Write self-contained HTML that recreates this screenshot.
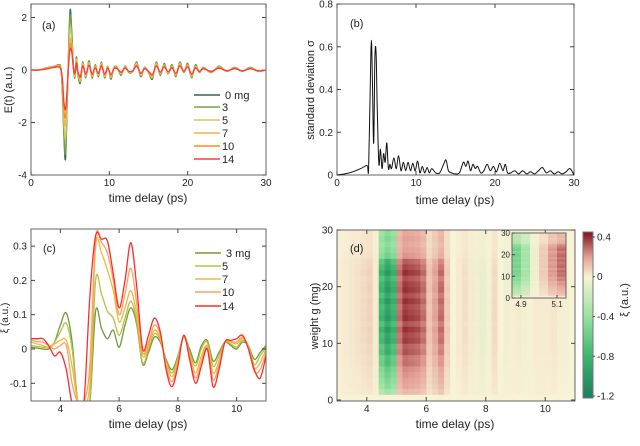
<!DOCTYPE html>
<html><head><meta charset="utf-8"><style>
html,body{margin:0;padding:0;background:#fff;overflow:hidden;width:640px;height:446px;}
svg{display:block;font-family:"Liberation Sans",sans-serif;}
text{fill:#222;}
</style></head><body>
<svg id="fig" width="640" height="446" viewBox="0 0 640 446" xmlns="http://www.w3.org/2000/svg"></svg>
<script>
// ---------- Panel (a) data ----------
const tA=[0,1,2,3,3.5,3.8,4.0,4.2,4.4,4.6,4.8,5.0,5.2,5.4,5.6,5.8,6.0,6.3,6.6,7,7.4,7.8,8.2,8.6,9,9.4,9.8,10.2,10.6,11,11.5,12,12.5,13,13.5,14,14.5,15,15.5,16,16.5,17,17.5,18,18.5,19,19.5,20,20.5,21,21.5,22,23,24,25,26,27,28,29,30];
const a0=[0,0,0.08,0.15,0.2,0.1,-0.8,-2.5,-3.4,-1.5,0.8,2.3,1.5,0.2,-0.3,0.5,-0.2,-0.5,0.3,-0.3,0.35,-0.3,0.2,-0.25,0.3,-0.3,0.15,-0.35,0.1,0.1,-0.2,0.15,-0.1,-0.05,0.3,-0.25,0.1,-0.1,-0.35,0.3,-0.2,0.25,-0.15,0.2,-0.25,0.3,-0.1,0.25,-0.3,0.2,-0.1,0.1,-0.1,0.15,-0.05,0.1,-0.05,0.1,-0.05,0];
const a3=[0,0,0.08,0.15,0.19,0.1,-0.7,-2.3,-3.2,-1.4,0.7,2.1,1.4,0.2,-0.28,0.46,-0.18,-0.46,0.28,-0.28,0.32,-0.28,0.18,-0.23,0.28,-0.28,0.14,-0.32,0.1,0.1,-0.18,0.14,-0.1,-0.05,0.28,-0.23,0.1,-0.1,-0.32,0.28,-0.18,0.23,-0.14,0.18,-0.23,0.28,-0.1,0.23,-0.28,0.18,-0.1,0.1,-0.1,0.14,-0.05,0.1,-0.05,0.1,-0.05,0];
const a5=[0,0,0.07,0.14,0.18,0.08,-0.6,-2.0,-2.6,-1.2,0.5,1.6,1.1,0.15,-0.25,0.4,-0.15,-0.4,0.25,-0.25,0.28,-0.25,0.15,-0.2,0.25,-0.25,0.12,-0.28,0.08,0.08,-0.15,0.12,-0.08,-0.05,0.25,-0.2,0.08,-0.08,-0.28,0.25,-0.15,0.2,-0.12,0.15,-0.2,0.25,-0.08,0.2,-0.25,0.15,-0.08,0.08,-0.08,0.12,-0.05,0.08,-0.05,0.08,-0.05,0];
const a7=[0,0,0.06,0.13,0.17,0.07,-0.5,-1.7,-2.1,-1.0,0.4,1.2,0.9,0.12,-0.2,0.35,-0.12,-0.35,0.2,-0.2,0.24,-0.2,0.12,-0.17,0.2,-0.2,0.1,-0.24,0.07,0.07,-0.12,0.1,-0.07,-0.04,0.2,-0.17,0.07,-0.07,-0.24,0.2,-0.12,0.17,-0.1,0.12,-0.17,0.2,-0.07,0.17,-0.2,0.12,-0.07,0.07,-0.07,0.1,-0.04,0.07,-0.04,0.07,-0.04,0];
const a10=[0,0,0.05,0.12,0.15,0.05,-0.4,-1.5,-1.8,-0.9,0.3,1.0,0.8,0.1,-0.18,0.3,-0.1,-0.3,0.18,-0.18,0.2,-0.18,0.1,-0.15,0.18,-0.18,0.08,-0.2,0.06,0.06,-0.1,0.08,-0.06,-0.04,0.18,-0.15,0.06,-0.06,-0.2,0.18,-0.1,0.15,-0.08,0.1,-0.15,0.18,-0.06,0.15,-0.18,0.1,-0.06,0.06,-0.06,0.08,-0.04,0.06,-0.04,0.06,-0.04,0];
const a14=[0,0,0.04,0.1,0.12,0.04,-0.3,-1.2,-1.5,-0.8,0.2,0.8,0.7,0.1,-0.12,0.25,-0.08,-0.25,0.15,-0.15,0.17,-0.15,0.08,-0.12,0.15,-0.15,0.07,-0.17,0.05,0.05,-0.08,0.07,-0.05,-0.03,0.15,-0.12,0.05,-0.05,-0.17,0.15,-0.08,0.12,-0.07,0.08,-0.12,0.15,-0.05,0.12,-0.15,0.08,-0.05,0.05,-0.05,0.07,-0.03,0.05,-0.03,0.05,-0.03,0];
const seriesA=[a0,a3,a5,a7,a10,a14];
const labelsA=["0 mg","3","5","7","10","14"];
const colorsA=["#2d6b4f","#7f9e45","#cdcc60","#f2b44a","#ff8a1e","#ff3a3a"];
const xTicksA=[0,10,20,30], yTicksA=[2,0,-2,-4];
// ---------- Panel (b) data ----------
const tB=[0,1,2,3,3.8,4.0,4.2,4.35,4.5,4.65,4.8,4.95,5.1,5.3,5.5,5.7,5.9,6.1,6.3,6.5,6.7,6.9,7.2,7.5,7.8,8.1,8.4,8.7,9,9.3,9.6,9.9,10.2,10.5,10.8,11.1,11.4,11.7,12,12.5,13,13.5,13.8,14.1,14.5,15,15.5,16,16.3,16.6,16.9,17.2,17.5,17.8,18.2,18.6,19,19.4,19.8,20.2,20.6,21,21.3,21.6,22,22.5,23,23.5,24,24.5,25,25.5,26,26.5,27,27.5,28,28.5,29,29.5,30];
const sB=[0,0.005,0.015,0.03,0.045,0.03,0.4,0.63,0.4,0.15,0.55,0.57,0.3,0.05,0.12,0.03,0.1,0.06,0.15,0.03,0.05,0.03,0.08,0.03,0.09,0.02,0.06,0.02,0.06,0.02,0.055,0.02,0.065,0.01,0.04,0.01,0.035,0.01,0.03,0.01,0.01,0.05,0.07,0.02,0.01,0.005,0.01,0.06,0.04,0.065,0.02,0.05,0.03,0.04,0.01,0.02,0.05,0.02,0.04,0.015,0.055,0.02,0.05,0.01,0.01,0.02,0.005,0.02,0.005,0.015,0.005,0.02,0.035,0.01,0.02,0.005,0.015,0.005,0.015,0.03,0];
const xTicksB=[0,10,20,30], yTicksB=[0,0.2,0.4,0.6,0.8];
// ---------- Panel (c) data ----------
const tC=[3,3.2,3.4,3.6,3.8,4.0,4.2,4.4,4.6,4.8,5.0,5.2,5.4,5.6,5.8,6.0,6.2,6.4,6.6,6.8,7.0,7.2,7.4,7.6,7.8,8.0,8.2,8.4,8.6,8.8,9.0,9.2,9.4,9.6,9.8,10.0,10.2,10.4,10.6,10.8,11];
const c3=[0.005,0.003,0,0,0.02,0.07,0.105,0.02,-0.3,-0.6,-0.2,0.11,0.06,0.03,0.055,0.005,0.07,0.12,0.07,-0.045,-0.01,0.035,0.02,-0.03,-0.06,-0.02,0.035,0,-0.04,0.01,0.025,-0.035,-0.01,0.02,0.01,0,0.02,0.01,-0.03,-0.01,0.01];
const c5=[0.01,0.008,0.005,0.005,0.02,0.05,0.075,0,-0.35,-0.6,-0.15,0.2,0.16,0.11,0.09,0.04,0.09,0.14,0.08,-0.04,0,0.045,0.025,-0.035,-0.07,-0.025,0.035,-0.01,-0.05,0,0.02,-0.05,-0.02,0.02,0.015,0.005,0.025,0.01,-0.045,-0.02,0.005];
const c7=[0.02,0.015,0.01,0.005,0.015,0.025,0.025,-0.05,-0.4,-0.6,-0.1,0.3,0.28,0.23,0.17,0.08,0.12,0.17,0.1,-0.02,0.01,0.055,0.03,-0.04,-0.08,-0.035,0.04,-0.015,-0.07,-0.02,0.01,-0.07,-0.035,0.02,0.02,0.015,0.03,0.01,-0.055,-0.04,0];
const c10=[0.025,0.022,0.02,0.01,0,0.01,0.01,-0.1,-0.45,-0.6,-0.05,0.32,0.31,0.28,0.2,0.1,0.16,0.235,0.13,-0.01,0.02,0.07,0.04,-0.05,-0.095,-0.04,0.04,-0.02,-0.085,-0.035,0.005,-0.09,-0.045,0.02,0.022,0.02,0.035,0.005,-0.065,-0.06,-0.01];
const c14=[0.03,0.03,0.03,0.01,-0.02,-0.01,-0.06,-0.3,-0.5,-0.6,0.15,0.33,0.32,0.315,0.22,0.12,0.2,0.31,0.18,0,0.04,0.09,0.05,-0.06,-0.11,-0.05,0.04,-0.03,-0.1,-0.05,0,-0.11,-0.06,0.02,0.025,0.03,0.04,0,-0.06,-0.085,-0.02];
const seriesC=[c3,c5,c7,c10,c14];
const labelsC=["3 mg","5","7","10","14"];
const colorsC=["#6f9a3a","#b8c048","#f0b838","#ffa060","#ff2a2a"];
const xTicksC=[4,6,8,10], yTicksC=[-0.1,0,0.1,0.2,0.3];
// ---------- Panel (d) data ----------
const tD=[3,3.2,3.4,3.6,3.8,4.0,4.2,4.4,4.6,4.8,5.0,5.2,5.4,5.6,5.8,6.0,6.2,6.4,6.6,6.8,7.0,7.2,7.4,7.6,7.8,8.0,8.2,8.4,8.6,8.8,9.0,9.2,9.4,9.6,9.8,10.0,10.2,10.4,10.6,10.8];
const profD=[0.01,0.02,0.03,0.04,0.06,0.08,0.02,-0.8,-1.0,-0.85,0.3,0.4,0.38,0.36,0.3,0.12,0.2,0.3,0.1,0,0.02,0.05,0.02,-0.04,-0.07,-0.02,0.06,0,-0.04,0.01,0.02,-0.03,-0.01,0.02,0.02,0.02,0.03,0.01,-0.02,0];
const wD=[0,0.35,0.45,0.5,0.55,0.6,0.72,0.7,0.85,0.8,0.95,0.9,1,0.85,1,0.95,0.9,1,0.88,1,0.95,0.85,1,0.9,0.8,0.55,0.5,0.45,0.5,0.45];
const cbTicks=[0.4,0,-0.4,-0.8,-1.2];

// ---------- helpers ----------
const svg=document.getElementById('fig');
const NS="http://www.w3.org/2000/svg";
function el(tag,attrs,parent){const e=document.createElementNS(NS,tag);for(const k in attrs)e.setAttribute(k,attrs[k]);(parent||svg).appendChild(e);return e;}
function txt(x,y,s,size,anchor,parent,rot){const e=el('text',{x:x,y:y,'font-size':size,'text-anchor':anchor||'middle'},parent);if(rot)e.setAttribute('transform','rotate(-90 '+x+' '+y+')');e.textContent=s;return e;}
function lin(d0,d1,r0,r1){return v=>r0+(v-d0)*(r1-r0)/(d1-d0);}
function frame(x0,y0,x1,y1,xt,yt,sx,sy,xfmt,yfmt,name){
  const g=el('g',{});
  el('rect',{x:x0,y:y0,width:x1-x0,height:y1-y0,fill:'none',stroke:'#666','stroke-width':1},g);
  xt.forEach(v=>{const x=sx(v);el('line',{x1:x,y1:y1,x2:x,y2:y1-4,stroke:'#444'},g);el('line',{x1:x,y1:y0,x2:x,y2:y0+4,stroke:'#444'},g);
    const t=txt(x,y1+11,xfmt(v),10,'middle',g);});
  yt.forEach(v=>{const y=sy(v);el('line',{x1:x0,y1:y,x2:x0+4,y2:y,stroke:'#444'},g);el('line',{x1:x1,y1:y,x2:x1-4,y2:y,stroke:'#444'},g);
    const t=txt(x0-4,y+3.5,yfmt(v),10,'end',g);});
  return g;
}
function path(xs,ys,sx,sy,color,w,parent,name){
  const P=xs.map((x,i)=>[sx(x),sy(ys[i])]);
  let d='M'+P[0][0].toFixed(1)+','+P[0][1].toFixed(1);
  for(let i=0;i<P.length-1;i++){
    const p0=P[Math.max(0,i-1)],p1=P[i],p2=P[i+1],p3=P[Math.min(P.length-1,i+2)];
    const c1=[p1[0]+(p2[0]-p0[0])/6,p1[1]+(p2[1]-p0[1])/6],c2=[p2[0]-(p3[0]-p1[0])/6,p2[1]-(p3[1]-p1[1])/6];
    d+='C'+c1[0].toFixed(1)+','+c1[1].toFixed(1)+' '+c2[0].toFixed(1)+','+c2[1].toFixed(1)+' '+p2[0].toFixed(1)+','+p2[1].toFixed(1);
  }
  const p=el('path',{d:d,fill:'none',stroke:color,'stroke-width':w,'stroke-linejoin':'round'},parent);
  return p;
}

// ---------- Panel (a) ----------
{const x0=31,x1=266,y0=4,y1=175;const sx=lin(0,30,x0,x1),sy=lin(0,-4,70,175);
 frame(x0,y0,x1,y1,xTicksA,yTicksA,sx,sy,v=>v,v=>v,'panel-a-axes');
 const cp=el('clipPath',{id:'clipA'});el('rect',{x:x0,y:y0,width:x1-x0,height:y1-y0},cp);
 const g=el('g',{'clip-path':'url(#clipA)'});
 seriesA.forEach((s,i)=>path(tA,s,sx,sy,colorsA[i],1.3,g,'series-a-'+labelsA[i].replace(' ','')));
 const ly=[95,107,120,133,146,159];
 labelsA.forEach((l,i)=>{const le=el('line',{x1:194,x2:220,y1:ly[i],y2:ly[i],stroke:colorsA[i],'stroke-width':1.5});
  const t=txt(i==0?225:222,ly[i]+4,l,11,'start');});
 const pl=txt(42,29,'(a)',11,'start');
 const xt=txt(148,202,'time delay (ps)',12);
 const yt=txt(12,90,'E(t)  (a.u.)',11,'middle',null,true);
}
// ---------- Panel (b) ----------
{const x0=337,x1=574,y0=4,y1=175;const sx=lin(0,30,x0,x1),sy=lin(0,0.8,y1,y0);
 frame(x0,y0,x1,y1,xTicksB,yTicksB,sx,sy,v=>v,v=>v==0?'0':v.toFixed(1),'panel-b-axes');
 path(tB,sB,sx,sy,'#111',1,null,'sigma-line');
 const pl=txt(350,27,'(b)',11,'start');
 const xt=txt(455,204,'time delay (ps)',12);
 const yt=txt(314,90,'standard deviation σ',11,'middle',null,true);
}
// ---------- Panel (c) ----------
{const x0=31,x1=266,y0=229,y1=401;const sx=lin(3,11,x0,x1),syRaw=lin(0,0.1,349,314.7);
 const sy=v=>Math.min(y1+2,syRaw(v));
 const cp=el('clipPath',{id:'clipC'});el('rect',{x:x0,y:y0,width:x1-x0,height:y1-y0},cp);
 const g=el('g',{'clip-path':'url(#clipC)'});
 seriesC.forEach((s,i)=>path(tC,s,sx,sy,colorsC[i],1.3,g,'series-c-'+labelsC[i].replace(' ','')));
 frame(x0,y0,x1,y1,xTicksC,yTicksC,sx,syRaw,v=>v,v=>v==0?'0':v.toFixed(1),'panel-c-axes');
 const ly=[253,266,279,292,306];
 labelsC.forEach((l,i)=>{const le=el('line',{x1:195,x2:221,y1:ly[i],y2:ly[i],stroke:colorsC[i],'stroke-width':1.5});
  const t=txt(i==0?226:222,ly[i]+4,l,11,'start');});
 const pl=txt(43,252,'(c)',11,'start');
 const xt=txt(148,428,'time delay (ps)',12);
 const yt=txt(8,318,'ξ (a.u.)',10,'middle',null,true);
}
// ---------- Panel (d) ----------
function cmap(v){
 const stops=[[-1.2,[26,128,96]],[-0.8,[60,180,110]],[-0.4,[150,225,160]],[0,[248,242,214]],[0.2,[228,160,150]],[0.45,[130,20,30]]];
 if(v<=stops[0][0])return 'rgb('+stops[0][1]+')';
 for(let i=1;i<stops.length;i++){if(v<=stops[i][0]){const a=stops[i-1],b=stops[i],f=(v-a[0])/(b[0]-a[0]);
  return 'rgb('+a[1].map((c,k)=>Math.round(c+(b[1][k]-c)*f)).join(',')+')';}}
 return 'rgb('+stops[stops.length-1][1]+')';
}
{const x0=337,x1=575,y0=230,y1=401;const sx=lin(3,11,x0,x1),sy=lin(0,30,400,230);
 el('rect',{x:x0,y:y0,width:x1-x0,height:y1-y0,fill:'rgb(248,242,214)'});
 const g=el('g',{});
 wD.forEach((w,j)=>{tD.forEach((t,i)=>{
   const r=el('rect',{x:sx(t).toFixed(1),y:sy(j+1).toFixed(1),width:(sx(t+0.2)-sx(t)+0.4).toFixed(1),height:(sy(j)-sy(j+1)+0.4).toFixed(1),fill:cmap(profD[i]*w)},g);
   });});
 frame(x0,y0,x1,y1,[4,6,8,10],[0,10,20,30],sx,sy,v=>v,v=>v,'panel-d-axes');
 const pl=txt(350,252,'(d)',11,'start');
 const xt=txt(455,428,'time delay (ps)',12);
 const yt=txt(318,316,'weight g (mg)',11,'middle',null,true);
 // inset
 const ix0=512,ix1=566,iy0=233,iy1=298;const isx=lin(4.85,5.15,ix0,ix1),isy=lin(0,30,iy1,iy0);
 const ig=el('g',{});
 el('rect',{x:ix0,y:iy0,width:ix1-ix0,height:iy1-iy0,fill:'rgb(248,242,214)'},ig);
 const insetT=[4.85,4.9,4.95,5.0,5.05,5.1];const insetP=[-0.55,-0.35,-0.05,0.1,0.22,0.3];
 wD.forEach((w,j)=>{insetT.forEach((t,i)=>{el('rect',{x:isx(t).toFixed(1),y:isy(j+1).toFixed(1),width:(isx(t+0.05)-isx(t)+0.3).toFixed(1),height:(isy(j)-isy(j+1)+0.3).toFixed(1),fill:cmap(insetP[i]*w)},ig);});});
 el('rect',{x:ix0,y:iy0,width:ix1-ix0,height:iy1-iy0,fill:'none',stroke:'#666'},ig);
 [0,10,20,30].forEach(v=>{txt(ix0-2,isy(v)+3,v,8,'end',ig);el('line',{x1:ix0,x2:ix0+3,y1:isy(v),y2:isy(v),stroke:'#444'},ig);});
 [4.9,5.1].forEach(v=>{txt(isx(v),iy1+9,v,8,'middle',ig);el('line',{x1:isx(v),x2:isx(v),y1:iy1,y2:iy1-3,stroke:'#444'},ig);});
 // colorbar
 const cx0=583,cx1=593,cy0=232,cy1=398;const cs=lin(0.45,-1.22,cy0,cy1);
 const cg=el('g',{});
 for(let y=cy0;y<cy1;y++){el('rect',{x:cx0,y:y,width:cx1-cx0,height:1.2,fill:cmap(0.45-(y-cy0)*(1.67)/(cy1-cy0))},cg);}
 el('rect',{x:cx0,y:cy0,width:cx1-cx0,height:cy1-cy0,fill:'none',stroke:'#777'},cg);
 cbTicks.forEach(v=>{const y=cs(v);el('line',{x1:cx1,x2:cx1+2,y1:y,y2:y,stroke:'#444'},cg);txt(cx1+4,y+3.5,v==0?'0':v,10,'start',cg);});
 const cl=txt(628,300,'ξ (a.u.)',11,'middle',null,true);
}
</script>
</body></html>
